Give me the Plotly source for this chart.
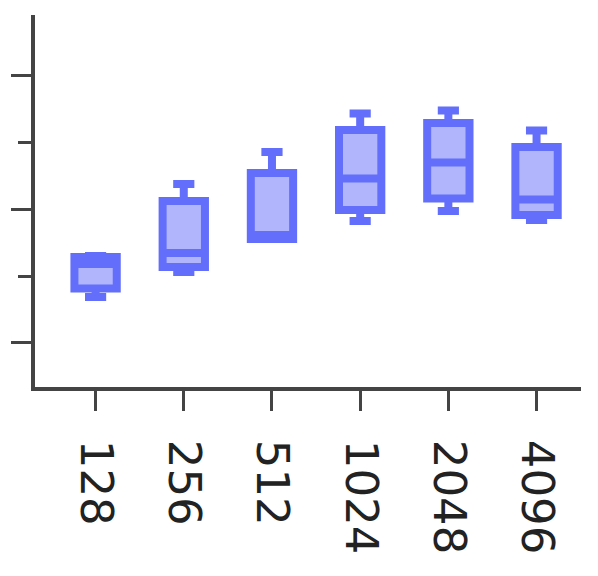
import plotly.graph_objects as go

categories = ["128", "256", "512", "1024", "2048", "4096"]
lower_fence = [1.687, 2.060, 2.552, 2.821, 2.970, 2.836]
q1_vals = [1.813, 2.134, 2.552, 2.985, 3.157, 2.910]
median_vals = [2.179, 2.343, 2.612, 3.455, 3.694, 3.142]
q3_vals = [2.284, 3.119, 3.537, 4.179, 4.284, 3.925]
upper_fence = [2.299, 3.373, 3.851, 4.425, 4.470, 4.172]

major_ticks = [1, 3, 5]
minor_ticks = [2, 4]

fig = go.Figure()
fig.add_trace(go.Box(
    x=categories,
    q1=q1_vals,
    median=median_vals,
    q3=q3_vals,
    lowerfence=lower_fence,
    upperfence=upper_fence,
    line=dict(color="#636efa", width=8),
    fillcolor="rgba(99,110,250,0.5)",
    whiskerwidth=0.5,
    width=0.48,
    boxpoints=False,
    showlegend=False,
))

fig.update_layout(
    width=590, height=568,
    margin=dict(l=21, r=17, t=7, b=189),
    paper_bgcolor="white", plot_bgcolor="white",
    font=dict(family="DejaVu Sans", color="#222"),
    xaxis=dict(
        type="category",
        range=[-0.687, 5.504],
        showline=True, linecolor="#444", linewidth=3.5,
        ticks="outside", ticklen=20, tickwidth=3, tickcolor="#444",
        tickangle=90, tickfont=dict(size=45, family="DejaVu Sans", color="#222"),
        ticklabelstandoff=20,
        showgrid=False, zeroline=False,
    ),
    yaxis=dict(
        range=[0.343, 5.896],
        showline=True, linecolor="#444", linewidth=3.5,
        ticks="outside", ticklen=20, tickwidth=3, tickcolor="#444",
        tickvals=major_ticks, showticklabels=False,
        minor=dict(tickvals=minor_ticks, ticks="outside", ticklen=13, tickwidth=3, tickcolor="#444"),
        showgrid=False, zeroline=False,
    ),
)

fig.write_html("out.html")
